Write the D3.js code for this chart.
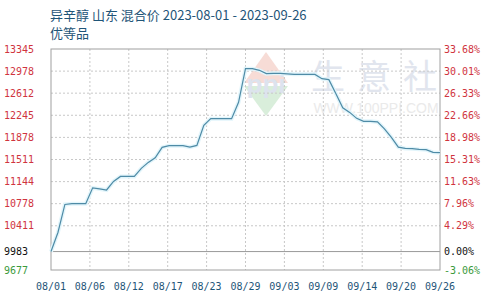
<!DOCTYPE html>
<html>
<head>
<meta charset="utf-8">
<script src="https://cdn.jsdelivr.net/npm/d3@7"></script>
<style>
body { margin: 0; background: #fff; }
</style>
</head>
<body>
<div id="chart"></div>
<script>
// price per day, 08/01 .. 09/26
var startDate = "2023-08-01";
var prices = [9983, 10300, 10765, 10777, 10777, 10777, 11040, 11022, 11005, 11147,
    11230, 11230, 11230, 11363, 11463, 11540, 11712, 11740, 11740, 11740,
    11717, 11745, 12077, 12189, 12189, 12189, 12189, 12460, 13019, 13019,
    12991, 12936, 12941, 12941, 12933, 12924, 12924, 12924, 12924, 12853,
    12836, 12606, 12368, 12293, 12194, 12144, 12144, 12135, 12019, 11878,
    11717, 11695, 11690, 11679, 11674, 11629, 11624];
var leftTicks = [13345, 12978, 12612, 12245, 11878, 11511, 11144, 10778, 10411, 9983, 9677];
var rightTicks = ["33.68%", "30.01%", "26.33%", "22.66%", "18.98%", "15.31%", "11.63%", "7.96%", "4.29%", "0.00%", "-3.06%"];
var dateTicks = ["08/01", "08/06", "08/12", "08/17", "08/23", "08/29", "09/03", "09/09", "09/14", "09/20", "09/26"];
var baseValue = 9983;
var watermarkChars = ["生", "意", "社"];

var margin = { top: 49, right: 50, bottom: 30, left: 51 },
    width = 490 - margin.left - margin.right,
    height = 300 - margin.top - margin.bottom;

var svg = d3.select("#chart").append("svg")
    .attr("width", 490)
    .attr("height", 300);

// title
svg.append("text")
    .attr("x", 50).attr("y", 20)
    .style("font-family", "'Noto Sans CJK SC', 'DejaVu Sans', sans-serif")
    .style("font-size", "13px")
    .style("fill", "#1f5578")
    .text("异辛醇 山东 混合价 2023-08-01 - 2023-09-26");
svg.append("text")
    .attr("x", 50).attr("y", 38)
    .style("font-family", "'Noto Sans CJK SC', sans-serif")
    .style("font-size", "13px")
    .style("fill", "#1f5578")
    .text("优等品");

var g = svg.append("g")
    .attr("transform", "translate(" + margin.left + "," + margin.top + ")");

var x = d3.scaleLinear()
    .domain([0, prices.length - 1])
    .range([0, width]);

var y = d3.scaleLinear()
    .domain([d3.min(leftTicks), d3.max(leftTicks)])
    .range([height, 0]);

// watermark
var wm = g.append("g").attr("class", "watermark");
wm.append("path")
    .attr("d", "M215,3 L237,34 L193,34 Z")
    .attr("fill", "#f7dcd6");
wm.append("path")
    .attr("d", "M193,37 L237,37 L215,67 Z")
    .attr("fill", "#d9eedb");
wm.append("text")
    .attr("x", 215).attr("y", 44)
    .attr("text-anchor", "middle")
    .style("font-family", "Arial, 'Liberation Sans', sans-serif")
    .style("font-weight", "bold")
    .style("font-size", "26px")
    .style("fill", "#dde3ee")
    .text("ppi");
wm.selectAll(".wmchar")
    .data(watermarkChars)
    .enter().append("text")
    .attr("class", "wmchar")
    .attr("x", function (d, i) { return 277 + i * 46; })
    .attr("y", 40)
    .attr("text-anchor", "middle")
    .style("font-family", "'Noto Sans CJK SC', sans-serif")
    .style("font-size", "34px")
    .style("fill", "#e1e5ee")
    .text(function (d) { return d; });
wm.append("text")
    .attr("x", 325).attr("y", 64)
    .attr("text-anchor", "middle")
    .style("font-family", "Arial, 'Liberation Sans', sans-serif")
    .style("font-size", "14px")
    .style("fill", "#eaeaea")
    .text("WWW.100PPI.COM");

// grid
var gridIdx = d3.range(dateTicks.length);
g.selectAll(".vgrid")
    .data(gridIdx.slice(1, -1))
    .enter().append("line")
    .attr("class", "vgrid")
    .attr("x1", function (d) { return x(d * (prices.length - 1) / (dateTicks.length - 1)); })
    .attr("x2", function (d) { return x(d * (prices.length - 1) / (dateTicks.length - 1)); })
    .attr("y1", 0).attr("y2", height)
    .attr("stroke", "#c8c8c8")
    .attr("stroke-dasharray", "2,2");

g.selectAll(".hgrid")
    .data(leftTicks.filter(function (v) { return v != baseValue && v != d3.min(leftTicks) && v != d3.max(leftTicks); }))
    .enter().append("line")
    .attr("class", "hgrid")
    .attr("x1", 0).attr("x2", width)
    .attr("y1", function (d) { return y(d); })
    .attr("y2", function (d) { return y(d); })
    .attr("stroke", "#c8c8c8")
    .attr("stroke-dasharray", "2,2");

g.append("line")
    .attr("x1", 0).attr("x2", width)
    .attr("y1", y(baseValue)).attr("y2", y(baseValue))
    .attr("stroke", "#999");

g.append("rect")
    .attr("width", width).attr("height", height)
    .attr("fill", "none")
    .attr("stroke", "#a0a0a0");

// line
var line = d3.line()
    .x(function (d, i) { return x(i); })
    .y(function (d) { return y(d); });

g.append("path")
    .datum(prices)
    .attr("d", line)
    .attr("fill", "none")
    .attr("stroke", "#e2f5fb")
    .attr("stroke-width", 4);
g.append("path")
    .datum(prices)
    .attr("d", line)
    .attr("fill", "none")
    .attr("stroke", "#4f8ba6")
    .attr("stroke-width", 1.2);

// axes labels
function tickColor(i) {
    if (leftTicks[i] == baseValue) return "#111";
    if (leftTicks[i] < baseValue) return "#3c9a3c";
    return "#d0343e";
}

var axisFont = "'DejaVu Sans Mono', monospace";

svg.selectAll(".ltick")
    .data(leftTicks)
    .enter().append("text")
    .attr("class", "ltick")
    .attr("x", 4)
    .attr("y", function (d) { return margin.top + y(d); })
    .attr("dy", "0.35em")
    .style("font-family", axisFont)
    .style("font-size", "10px")
    .style("fill", function (d, i) { return tickColor(i); })
    .text(function (d) { return d; });

svg.selectAll(".rtick")
    .data(rightTicks)
    .enter().append("text")
    .attr("class", "rtick")
    .attr("x", margin.left + width + 4)
    .attr("y", function (d, i) { return margin.top + y(leftTicks[i]); })
    .attr("dy", "0.35em")
    .style("font-family", axisFont)
    .style("font-size", "10px")
    .style("fill", function (d, i) { return tickColor(i); })
    .text(function (d) { return d; });

svg.selectAll(".xtick")
    .data(dateTicks)
    .enter().append("text")
    .attr("class", "xtick")
    .attr("x", function (d, i) { return margin.left + x(i * (prices.length - 1) / (dateTicks.length - 1)); })
    .attr("y", 290)
    .attr("text-anchor", "middle")
    .style("font-family", axisFont)
    .style("font-size", "10px")
    .style("fill", "#1f5578")
    .text(function (d) { return d; });
</script>
</body>
</html>
